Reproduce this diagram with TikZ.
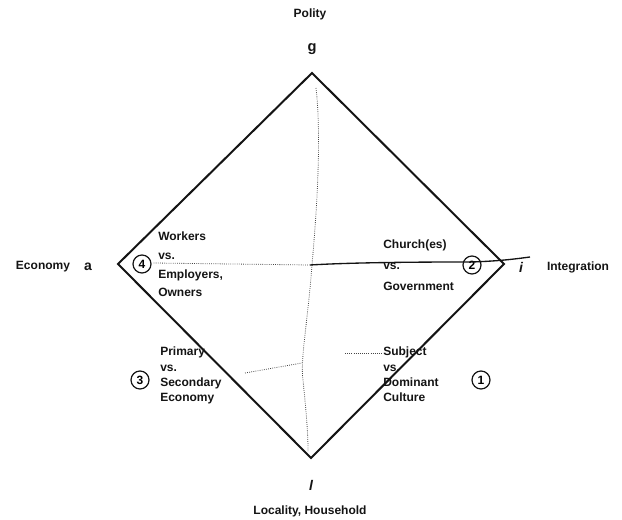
\documentclass[tikz,border=0pt]{standalone}
\usepackage{fontspec}
\setmainfont{Liberation Sans}
\usetikzlibrary{positioning}

\definecolor{inkblack}{RGB}{20, 20, 20}
\definecolor{pencilgray}{RGB}{70, 70, 70}

\begin{document}
\begin{tikzpicture}[x=0.75pt, y=-0.75pt,
    lbl/.style={font=\bfseries\fontsize{9}{11}\selectfont, text=inkblack, inner sep=0pt},
    corner/.style={font=\bfseries\itshape\fontsize{10.5}{12}\selectfont, text=inkblack, inner sep=0pt},
    conflict/.style={font=\bfseries\fontsize{9}{14}\selectfont, text=inkblack, align=left, anchor=north west, inner sep=0pt},
    num/.style={draw=inkblack, circle, line width=0.9pt, inner sep=1pt, minimum size=13.5pt, font=\bfseries\fontsize{9}{11}\selectfont},
    edge/.style={draw=inkblack, line width=1.5pt},
    pencil/.style={draw=pencilgray, line width=0.6pt, densely dotted}]
  \useasboundingbox (0,0) rectangle (622,520);

  % corners of the AGIL square
  \coordinate (g) at (312,73);
  \coordinate (a) at (118,264);
  \coordinate (i) at (504,264);
  \coordinate (l) at (311,458);
  \draw[edge, line join=miter] (g) -- (i) -- (l) -- (a) -- cycle;

  % subsystem names
  \node[lbl] (polity) at (310,14) {Polity};
  \node[corner, font=\bfseries\fontsize{11}{12}\selectfont] (glbl) at (312,49) {g};
  \node[lbl] (economy) at (43,267) {Economy};
  \node[corner, font=\bfseries\fontsize{10.5}{12}\selectfont] (albl) at (88,267) {a};
  \node[corner] (ilbl) at (521,267) {i};
  \node[lbl] (integration) at (578,267) {Integration};
  \node[corner] (llbl) at (311,485) {l};
  \node[lbl] (locality) at (310,511) {Locality, Household};

  % conflict pairs
  \node[conflict] (workers) at (158,232) {Workers\\vs.\\Employers,\\Owners};
  \node[conflict, font=\bfseries\fontsize{9}{15.5}\selectfont] (church) at (383,240) {Church(es)\\vs.\\Government};
  \node[conflict, font=\bfseries\fontsize{9}{11.5}\selectfont] (primary) at (160,347) {Primary\\vs.\\Secondary\\Economy};
  \node[conflict, font=\bfseries\fontsize{9}{11.5}\selectfont] (subject) at (383,347) {Subject\\vs.\\Dominant\\Culture};

  % numbered circles
  \node[num] (n4) at (142,264) {4};
  \node[num] (n2) at (472,265) {2};
  \node[num] (n3) at (140,380) {3};
  \node[num] (n1) at (481,380) {1};

  % pencil marks
  \draw[pencil] (g) ++(4,15) .. controls (322,140) and (316,220) .. (312,265)
    .. controls (308,320) and (300,360) .. (303,380)
    .. controls (306,410) and (308,430) .. (308,452);
  \draw[pencil] (n4.east) ++(2,-1) -- (310,265);
  \draw[draw=inkblack, line width=1pt] (310,265) .. controls (360,262) and (440,262) .. (472,262)
    .. controls (500,261) and (515,259) .. (530,257);
  \draw[pencil] (245,373) -- (302,363);
  \draw[pencil] (345,353) -- (subject.west |- 345,353);
\end{tikzpicture}
\end{document}
